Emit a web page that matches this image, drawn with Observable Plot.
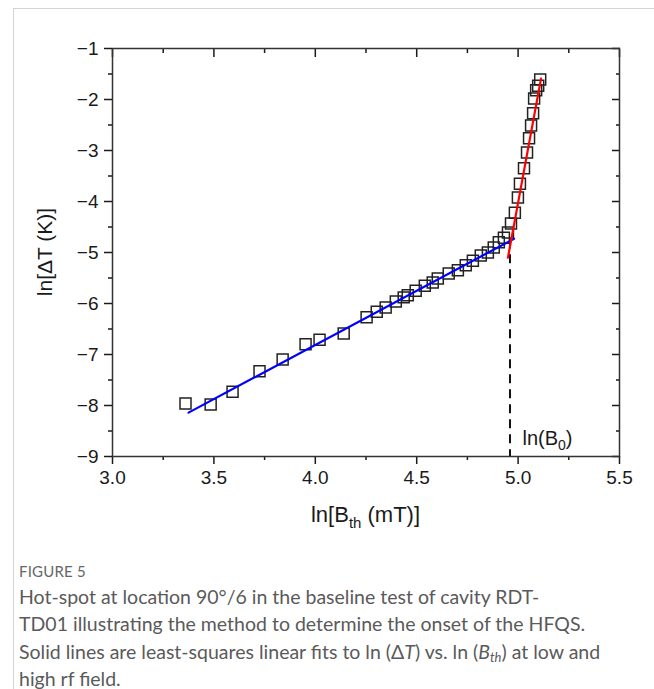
<!DOCTYPE html>
<html><head><meta charset="utf-8">
<script src="https://cdn.jsdelivr.net/npm/d3@7"></script>
<script src="https://cdn.jsdelivr.net/npm/@observablehq/plot@0.6"></script>
<style>
body{margin:0;background:#fff;width:654px;height:689px;overflow:hidden;position:relative;font-family:"Liberation Sans",Arial,sans-serif}
#border{position:absolute;left:13px;top:8px;right:0;bottom:-2px;border-left:1px solid #d4d4d4;border-top:1px solid #d4d4d4}
#chart{position:absolute;left:0;top:0}
#fig{position:absolute;left:19px;top:562px;font-family:Lato,"Open Sans",sans-serif;font-size:15px;color:#666;letter-spacing:0.2px}
#cap{position:absolute;left:19px;top:583px;width:630px;font-family:Lato,"Open Sans",sans-serif;font-size:19.5px;line-height:27.3px;color:#5a5a5a;font-weight:400}
#cap sub{font-size:13px;vertical-align:-3px;line-height:0}
</style></head>
<body>
<div id="border"></div>
<div id="chart"></div>
<div id="fig">FIGURE 5</div>
<div id="cap">Hot-spot at location 90°/6 in the baseline test of cavity RDT-<br>TD01 illustrating the method to determine the onset of the HFQS.<br>Solid lines are least-squares linear fits to ln (Δ<i>T</i>) vs. ln (<i>B<sub>th</sub></i>) at low and<br>high rf field.</div>
<script>
// measured points: ln(B_th) and ln(ΔT)
const lnB = [3.360,3.484,3.592,3.725,3.839,3.952,4.021,4.140,4.253,4.303,4.347,4.397,4.436,4.456,4.495,4.540,4.579,4.604,4.658,4.703,4.742,4.777,4.816,4.851,4.880,4.905,4.930,4.950,4.965,4.984,4.999,5.009,5.029,5.044,5.054,5.064,5.074,5.079,5.089,5.099,5.109];
const lnT = [-7.96,-7.98,-7.73,-7.33,-7.10,-6.80,-6.71,-6.59,-6.27,-6.16,-6.08,-5.96,-5.88,-5.84,-5.75,-5.65,-5.59,-5.51,-5.41,-5.35,-5.25,-5.16,-5.06,-5.00,-4.90,-4.80,-4.71,-4.61,-4.43,-4.22,-3.92,-3.65,-3.35,-3.04,-2.76,-2.51,-2.27,-1.98,-1.82,-1.73,-1.61];
// low-field fit (blue) and high-field fit (red) end points
const lowFitX = [3.375, 4.98];
const lowFitY = [-8.14, -4.73];
const highFitX = [4.95, 5.113];
const highFitY = [-5.10, -1.59];
// onset ln(B0)
const lnB0 = 4.96;
const onsetY = [-4.75, -9];
// ticks
const xMajor = [3.0,3.5,4.0,4.5,5.0,5.5];
const xMinor = [3.25,3.75,4.25,4.75,5.25];
const yMajor = [-1,-2,-3,-4,-5,-6,-7,-8,-9];
const yMinor = [-1.5,-2.5,-3.5,-4.5,-5.5,-6.5,-7.5,-8.5];

const pts = lnB.map((x,i)=>({x, y: lnT[i]}));
const low = lowFitX.map((x,i)=>({x, y: lowFitY[i]}));
const high = highFitX.map((x,i)=>({x, y: highFitY[i]}));
const blank = () => "";
const fs = 19;

const plot = Plot.plot({
  width: 654, height: 545,
  marginLeft: 112, marginRight: 35, marginTop: 48, marginBottom: 89,
  style: {fontFamily: '"Liberation Sans", Arial, sans-serif', fontSize: "19px", color: "#1a1a1a", background: "transparent", overflow: "visible"},
  x: {domain: [3, 5.5]},
  y: {domain: [-9, -1]},
  marks: [
    Plot.ruleX([lnB0], {y1: onsetY[0], y2: onsetY[1], stroke: "#111", strokeWidth: 2, strokeDasharray: "9,6"}),
    Plot.dot(pts, {x: "x", y: "y", symbol: "square", r: 6.2, stroke: "#222", strokeWidth: 1.5, fill: "none"}),
    Plot.line(low, {x: "x", y: "y", stroke: "#0000ff", strokeWidth: 2.2}),
    Plot.line(high, {x: "x", y: "y", stroke: "#ff0000", strokeWidth: 2.2}),
    Plot.axisX({anchor: "bottom", ticks: xMajor, tickSize: 8, tickPadding: 6, fontSize: fs, tickFormat: d3.format(".1f"), label: null, strokeWidth: 1.5}),
    Plot.axisX({anchor: "bottom", ticks: xMinor, tickSize: 4, tickFormat: blank, label: null, strokeWidth: 1.5}),
    Plot.axisX({anchor: "top", ticks: xMajor, tickSize: -8, tickFormat: blank, label: null, strokeWidth: 1.5}),
    Plot.axisX({anchor: "top", ticks: xMinor, tickSize: -4, tickFormat: blank, label: null, strokeWidth: 1.5}),
    Plot.axisY({anchor: "left", ticks: yMajor, tickSize: 8, tickPadding: 6, fontSize: fs, tickFormat: d3.format("d"), label: null, strokeWidth: 1.5}),
    Plot.axisY({anchor: "left", ticks: yMinor, tickSize: 4, tickFormat: blank, label: null, strokeWidth: 1.5}),
    Plot.axisY({anchor: "right", ticks: yMajor, tickSize: -8, tickFormat: blank, label: null, strokeWidth: 1.5}),
    Plot.axisY({anchor: "right", ticks: yMinor, tickSize: -4, tickFormat: blank, label: null, strokeWidth: 1.5}),
    Plot.frame({stroke: "#333", strokeWidth: 1.5})
  ]
});
document.getElementById("chart").appendChild(plot);

const svg = d3.select(plot);
const sx = plot.scale("x"), sy = plot.scale("y");
const fam = '"Liberation Sans", Arial, sans-serif';
// x axis label
const xl = svg.append("text").attr("x", (sx.apply(3) + sx.apply(5.5)) / 2).attr("y", 522)
  .attr("text-anchor", "middle").attr("font-family", fam).attr("font-size", 22).attr("fill", "#1a1a1a");
xl.append("tspan").text("ln[B");
xl.append("tspan").attr("font-size", 15).attr("dy", 6).text("th");
xl.append("tspan").attr("dy", -6).text(" (mT)]");
// y axis label
svg.append("text").attr("transform", `translate(52,${(sy.apply(-1) + sy.apply(-9)) / 2}) rotate(-90)`)
  .attr("text-anchor", "middle").attr("font-family", fam).attr("font-size", 21).attr("fill", "#1a1a1a")
  .text("ln[ΔT (K)]");
// ln(B0) label
const bl = svg.append("text").attr("x", sx.apply(5.024)).attr("y", sy.apply(-8.78))
  .attr("text-anchor", "start").attr("font-family", fam).attr("font-size", 20).attr("fill", "#1a1a1a");
bl.append("tspan").text("ln(B");
bl.append("tspan").attr("font-size", 14).attr("dy", 5).text("0");
bl.append("tspan").attr("dy", -5).text(")");
</script>
</body></html>
